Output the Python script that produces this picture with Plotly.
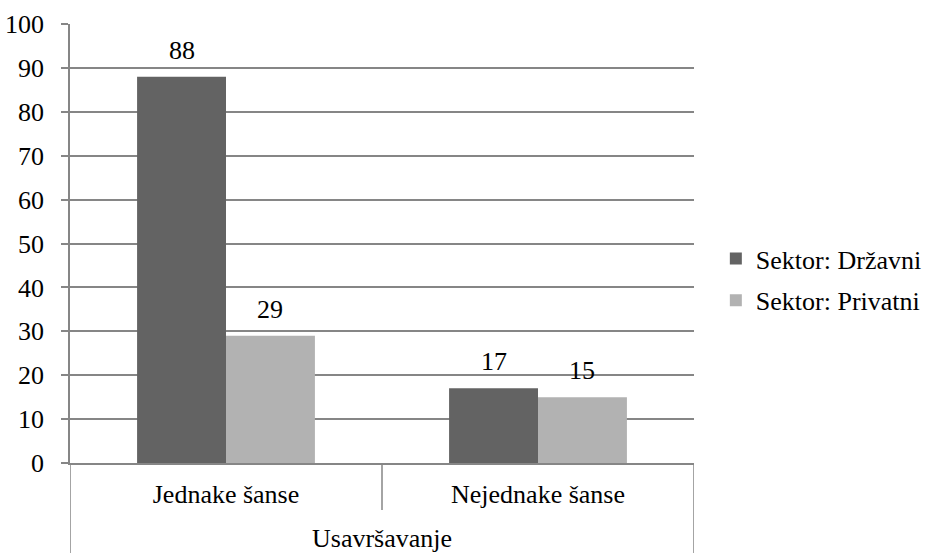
import plotly.graph_objects as go

categories = ["Jednake šanse", "Nejednake šanse"]
group_label = "Usavršavanje"
series_names = ["Sektor: Državni", "Sektor: Privatni"]
drzavni = [88, 17]
privatni = [29, 15]
y_ticks = [0, 10, 20, 30, 40, 50, 60, 70, 80, 90, 100]

colors = ["#636363", "#B2B2B2"]
FONT = "Liberation Serif"
FS = 26

fig = go.Figure()
for name, vals, col, grp in zip(series_names, [drzavni, privatni], colors, ["a", "b"]):
    fig.add_trace(go.Bar(x=categories, y=vals, name=name, marker_color=col,
                         marker_line_width=0, legendgroup=grp))

# data labels
plot_w = 925 - 70 - 231
cat_w = plot_w / len(categories)
bargap = 0.43
bar_w = cat_w * (1 - bargap) / 2
for i, vals in enumerate([drzavni, privatni]):
    shift = (-0.5 + i) * bar_w
    for c, v in zip(categories, vals):
        fig.add_annotation(x=c, y=v, text=str(v), showarrow=False, xref="x", yref="y",
                           yanchor="bottom", yshift=10, xshift=shift,
                           font=dict(family=FONT, size=FS, color="black"))

# category dividers below the axis
line = dict(color="#868686", width=1.5)
fig.add_shape(type="line", xref="x", yref="paper", x0=-0.5, x1=-0.5, y0=0, y1=-0.21, line=line)
fig.add_shape(type="line", xref="x", yref="paper", x0=0.5, x1=0.5, y0=0, y1=-0.107, line=line)
fig.add_shape(type="line", xref="x", yref="paper", x0=1.5, x1=1.5, y0=0, y1=-0.21, line=line)
fig.add_annotation(x=0.5, y=-0.172, xref="x", yref="paper", text=group_label, showarrow=False,
                   yanchor="middle", font=dict(family=FONT, size=FS, color="black"))

fig.update_layout(
    width=925, height=553,
    margin=dict(l=70, r=231, t=24, b=90, autoexpand=False),
    plot_bgcolor="white", paper_bgcolor="white",
    barmode="group", bargap=bargap, bargroupgap=0,
    showlegend=True,
    legend=dict(x=1.035, xanchor="left", xref="paper", y=0.418, yanchor="middle",
                font=dict(family=FONT, size=FS, color="black"),
                tracegroupgap=5, itemwidth=30),
)
fig.update_xaxes(type="category", range=[-0.5, 1.5], showgrid=False, showline=True,
                 linecolor="#868686", linewidth=1.5, ticks="", ticklabelstandoff=7,
                 automargin=False,
                 tickfont=dict(family=FONT, size=FS, color="black"))
fig.update_yaxes(range=[0, 100], tickvals=y_ticks, showgrid=True, gridcolor="#868686",
                 gridwidth=1.5, showline=True, linecolor="#868686", linewidth=1.5,
                 ticks="outside", ticklen=7, tickcolor="#868686", tickwidth=1.5,
                 ticklabelstandoff=12, automargin=False,
                 zeroline=False, tickfont=dict(family=FONT, size=FS, color="black"))

fig.write_html("out.html", config={"displayModeBar": False},
               post_script="document.body.style.margin='0';")
